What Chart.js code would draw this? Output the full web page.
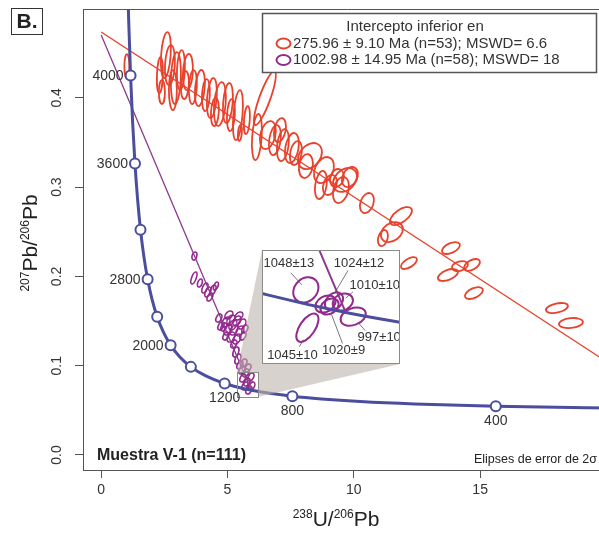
<!DOCTYPE html>
<html>
<head>
<meta charset="utf-8">
<script src="https://cdn.jsdelivr.net/npm/chart.js@4.4.1/dist/chart.umd.min.js"></script>
<style>
  html, body { margin: 0; padding: 0; background: #fff; overflow: hidden; }
  #wrap { position: relative; width: 599px; height: 537px; overflow: hidden; }
  #main { position: absolute; left: 0; top: 0; }
  #inset { position: absolute; left: 262px; top: 250px; }
</style>
</head>
<body>
<div id="wrap">
  <canvas id="main" width="612" height="537"></canvas>
  <canvas id="inset" width="138" height="114"></canvas>
</div>
<script>
// axis ticks
var xTicks = [0, 5, 10, 15];
var yTicks = [0, 0.1, 0.2, 0.3, 0.4];

// concordia curve (Tera-Wasserburg), age in Ma
var concAge = [4400, 4200, 4000, 3800, 3600, 3400, 3200, 3000, 2800, 2600, 2400, 2200, 2000, 1800, 1600, 1400, 1200, 1100, 1000, 900, 800, 700, 600, 500, 400, 300];
var concX = [1.0215, 1.0888, 1.1630, 1.2452, 1.3370, 1.4398, 1.5557, 1.6874, 1.8383, 2.0130, 2.2169, 2.4586, 2.7490, 3.1044, 3.5496, 4.1227, 4.8880, 5.3746, 5.9591, 6.6742, 7.5680, 8.7182, 10.252, 12.399, 15.620, 20.990];
var concY = [0.5571, 0.4863, 0.4250, 0.3721, 0.3264, 0.2868, 0.2524, 0.2227, 0.1968, 0.1744, 0.1548, 0.1378, 0.1230, 0.1100, 0.0987, 0.0888, 0.0801, 0.0762, 0.0725, 0.0691, 0.0658, 0.0628, 0.0599, 0.0572, 0.0547, 0.0523];
var concMarker = [4000, 3600, 3200, 2800, 2400, 2000, 1600, 1200, 800, 400];
var concLabel = [4000, 3600, 2800, 2000, 1200, 800, 400];

// discordia lines
var redLineX = [0, 22.86];
var redLineY = [0.4737, 0.0518];
var purpleLineX = [0, 5.94];
var purpleLineY = [0.4703, 0.0726];

// group 1: 275.96 Ma lower intercept (2s error ellipses)
var redX = [1.017, 2.561, 2.403, 2.720, 2.957, 2.838, 3.155, 3.432, 3.630, 3.907, 4.145, 4.382, 4.699, 5.016, 5.135, 5.412, 5.491, 6.480, 6.164, 6.599, 6.877, 7.193, 7.550, 8.262, 8.104, 8.817, 8.698, 9.648, 9.489, 9.845, 9.331, 10.519, 11.865, 11.508, 11.152, 12.181, 13.844, 14.200, 14.675, 13.725, 14.754, 18.040, 18.594, 2.324, 3.314, 4.501, 5.768, 7.075, 7.708, 9.054];
var redY = [0.4356, 0.4479, 0.4065, 0.4367, 0.4222, 0.4087, 0.4311, 0.4289, 0.4121, 0.4110, 0.4031, 0.3998, 0.3931, 0.3942, 0.3807, 0.3807, 0.3606, 0.3998, 0.3561, 0.3583, 0.3527, 0.3471, 0.3438, 0.3348, 0.3236, 0.3191, 0.3024, 0.3080, 0.2968, 0.3113, 0.3102, 0.2822, 0.2676, 0.2497, 0.2430, 0.2150, 0.2318, 0.2116, 0.2128, 0.2016, 0.1814, 0.1646, 0.1478, 0.4255, 0.4143, 0.3841, 0.3751, 0.3639, 0.3382, 0.3024];
var redErrX = [0.099, 0.198, 0.119, 0.198, 0.198, 0.158, 0.158, 0.198, 0.158, 0.198, 0.158, 0.198, 0.238, 0.198, 0.158, 0.198, 0.079, 0.435, 0.198, 0.317, 0.238, 0.238, 0.277, 0.475, 0.277, 0.396, 0.238, 0.475, 0.317, 0.317, 0.277, 0.277, 0.435, 0.435, 0.198, 0.317, 0.356, 0.317, 0.317, 0.396, 0.356, 0.435, 0.475, 0.119, 0.158, 0.158, 0.119, 0.238, 0.238, 0.277];
var redErrY = [0.0134, 0.0258, 0.0134, 0.0224, 0.0291, 0.0224, 0.0224, 0.0202, 0.0190, 0.0202, 0.0179, 0.0224, 0.0246, 0.0224, 0.0179, 0.0280, 0.0090, 0.0302, 0.0258, 0.0157, 0.0168, 0.0179, 0.0168, 0.0146, 0.0134, 0.0146, 0.0157, 0.0134, 0.0146, 0.0112, 0.0101, 0.0112, 0.0101, 0.0112, 0.0090, 0.0067, 0.0067, 0.0056, 0.0067, 0.0067, 0.0067, 0.0056, 0.0056, 0.0202, 0.0157, 0.0157, 0.0157, 0.0134, 0.0134, 0.0112];
var redRho = [0, 0.3, 0, 0.2, 0.2, 0, 0.2, 0.2, 0.2, 0.3, 0.2, 0.3, 0.3, 0.3, 0.2, 0.4, 0.3, 0.85, 0.3, 0.3, 0.3, 0.3, 0.3, 0.3, 0.2, 0.3, 0.3, 0.3, 0.3, 0.3, 0.2, 0.3, 0.6, 0.3, 0.3, 0.6, 0.5, 0.3, 0.5, 0.5, 0.5, 0.4, 0.2, 0.2, 0.2, 0.2, 0.3, 0.3, 0.3, 0.3];

// group 2: 1002.98 Ma lower intercept
var purpleX = [3.690, 3.670, 4.105, 4.224, 4.422, 4.303, 4.541, 4.659, 4.739, 4.937, 5.135, 5.372, 5.570, 5.016, 5.253, 5.491, 5.689, 5.135, 5.372, 4.857, 5.333, 5.412, 5.491, 5.649, 5.570, 5.808, 5.610, 5.768, 5.927, 5.689, 5.966, 5.847, 5.055, 5.451, 5.214, 5.610, 4.937, 5.253, 3.907, 5.728];
var purpleY = [0.2228, 0.1982, 0.1870, 0.1825, 0.1848, 0.1769, 0.1892, 0.1534, 0.1445, 0.1489, 0.1512, 0.1501, 0.1467, 0.1400, 0.1400, 0.1389, 0.1411, 0.1321, 0.1299, 0.1433, 0.1153, 0.1075, 0.1008, 0.1030, 0.0952, 0.0974, 0.0862, 0.0817, 0.0873, 0.0773, 0.0773, 0.0728, 0.1568, 0.1557, 0.1456, 0.1333, 0.1333, 0.1243, 0.1926, 0.0918];
var purpleErrX = [0.099, 0.119, 0.119, 0.119, 0.119, 0.119, 0.099, 0.119, 0.119, 0.158, 0.158, 0.158, 0.158, 0.158, 0.158, 0.158, 0.119, 0.158, 0.158, 0.119, 0.119, 0.119, 0.119, 0.119, 0.119, 0.119, 0.119, 0.119, 0.119, 0.119, 0.119, 0.119, 0.158, 0.158, 0.158, 0.119, 0.119, 0.119, 0.099, 0.119];
var purpleErrY = [0.0045, 0.0067, 0.0056, 0.0056, 0.0056, 0.0045, 0.0045, 0.0045, 0.0045, 0.0056, 0.0056, 0.0056, 0.0056, 0.0056, 0.0056, 0.0056, 0.0045, 0.0056, 0.0056, 0.0045, 0.0056, 0.0056, 0.0045, 0.0045, 0.0045, 0.0045, 0.0045, 0.0045, 0.0045, 0.0045, 0.0045, 0.0045, 0.0045, 0.0045, 0.0056, 0.0045, 0.0045, 0.0045, 0.0045, 0.0045];
var purpleRho = [0.3, 0.6, 0.5, 0.5, 0.5, 0.5, 0.5, 0.4, 0.4, 0.4, 0.4, 0.4, 0.4, 0.4, 0.4, 0.4, 0.4, 0.4, 0.4, 0.4, 0.4, 0.4, 0.4, 0.4, 0.4, 0.4, 0.4, 0.4, 0.4, 0.4, 0.4, 0.4, 0.4, 0.4, 0.4, 0.4, 0.4, 0.4, 0.4, 0.4];

// enlarged detail: region of the main plot shown in the inset
var zoomBoxX = [5.372, 6.204];
var zoomBoxY = [0.065, 0.0929];
var insetRangeX = [5.343, 6.328];
var insetRangeY = [0.0622, 0.0852];
var insetX = [5.656, 5.667, 5.796, 5.825, 5.857, 5.920, 5.994];
var insetY = [0.07716, 0.06952, 0.07431, 0.07380, 0.07482, 0.07471, 0.07176];
var insetErrX = [0.0899, 0.0791, 0.0719, 0.0647, 0.0647, 0.0719, 0.0899];
var insetErrY = [0.00255, 0.00285, 0.00173, 0.00163, 0.00183, 0.00173, 0.00183];
var insetRho = [0.2, 0.6, 0.3, 0.3, 0.3, 0.2, 0.3];
var insetAge = ['1048±13', '1045±10', '', '1020±9', '1024±12', '1010±10', '997±10'];

var legendTitle = 'Intercepto inferior en';
var legendText = ['275.96 ± 9.10 Ma (n=53); MSWD= 6.6', '1002.98 ± 14.95 Ma (n=58); MSWD= 18'];

var RED = '#e8422c', PURPLE = '#93298f', PURPLE_LINE = '#8d3a8d', BLUE = '#4b4e9d', INK = '#333333';
var FONT = '"Liberation Sans", Arial, Helvetica, sans-serif';

// label placement for the inset ages: text offset, leader start, leader end (px from ellipse centre)
var insetLabelPos = [
  [-17, -26, -15, -17, -4, -5],
  [-15, 28, -8, 19, -4, 12],
  null,
  [14, 44, 13, 37, 2, 8],
  [25, -38, 14, -31, 1, -9],
  [32, -17, 10, -10, 3, -4],
  [26, 21, 12, 14, 5, 6]
];

function points(xs, ys) {
  return xs.map(function (x, i) { return { x: x, y: ys[i] }; });
}

function ellipseSet(xs, ys, ex, ey, rho, color, width) {
  return {
    type: 'scatter',
    data: points(xs, ys),
    errX: ex, errY: ey, rho: rho, ellColor: color, ellWidth: width,
    pointRadius: 0, showLine: false
  };
}

function fixedTicks(list) {
  return function (axis) {
    axis.ticks = list.map(function (v) { return { value: v }; });
  };
}

// draws each analysis as its error ellipse, through the chart scales
var ellipsePlugin = {
  id: 'ellipses',
  beforeDatasetsDraw: function (chart) {
    var xs = chart.scales.x, ys = chart.scales.y, ctx = chart.ctx, a = chart.chartArea;
    var kx = Math.abs(xs.getPixelForValue(1) - xs.getPixelForValue(0));
    var ky = Math.abs(ys.getPixelForValue(1) - ys.getPixelForValue(0));
    ctx.save();
    ctx.beginPath();
    ctx.rect(a.left, a.top, a.right - a.left, a.bottom - a.top);
    ctx.clip();
    chart.data.datasets.forEach(function (ds) {
      if (!ds.errX) return;
      ctx.strokeStyle = ds.ellColor;
      ctx.lineWidth = ds.ellWidth;
      ds.data.forEach(function (p, i) {
        var sa = ds.errX[i] * kx, sb = ds.errY[i] * ky;
        var c = -ds.rho[i] * sa * sb; // canvas y points down
        var m = (sa * sa + sb * sb) / 2;
        var d = Math.sqrt(Math.pow((sa * sa - sb * sb) / 2, 2) + c * c);
        var rot = 0.5 * Math.atan2(2 * c, sa * sa - sb * sb);
        ctx.beginPath();
        ctx.ellipse(xs.getPixelForValue(p.x), ys.getPixelForValue(p.y),
          Math.sqrt(m + d), Math.sqrt(Math.max(m - d, 0.25)), rot, 0, Math.PI * 2);
        ctx.stroke();
      });
    });
    ctx.restore();
  }
};

function supText(ctx, parts, x, y, rotate) {
  var big = '21px ' + FONT, small = '12px ' + FONT, w = 0;
  parts.forEach(function (p) { ctx.font = p[1] ? small : big; w += ctx.measureText(p[0]).width; });
  ctx.save();
  ctx.translate(x, y);
  if (rotate) ctx.rotate(-Math.PI / 2);
  ctx.textAlign = 'left';
  ctx.textBaseline = 'alphabetic';
  var cx = -w / 2;
  parts.forEach(function (p) {
    ctx.font = p[1] ? small : big;
    ctx.fillText(p[0], cx, p[1] ? -8 : 0);
    cx += ctx.measureText(p[0]).width;
  });
  ctx.restore();
}

var mainDecor = {
  id: 'mainDecor',
  afterDatasetsDraw: function (chart) {
    var xs = chart.scales.x, ys = chart.scales.y, ctx = chart.ctx;
    // connector between the small box and the inset
    var bl = xs.getPixelForValue(zoomBoxX[0]), br = xs.getPixelForValue(zoomBoxX[1]);
    var bt = ys.getPixelForValue(zoomBoxY[1]), bb = ys.getPixelForValue(zoomBoxY[0]);
    var inset = document.getElementById('inset');
    var il = inset.offsetLeft, it = inset.offsetTop, ir = il + inset.width, ib = it + inset.height;
    ctx.save();
    ctx.fillStyle = 'rgba(188,180,172,0.6)';
    ctx.beginPath();
    ctx.moveTo(bl, bt);
    ctx.lineTo(il, it);
    ctx.lineTo(ir, ib);
    ctx.lineTo(br, bb);
    ctx.lineTo(br, bt);
    ctx.closePath();
    ctx.fill();
    ctx.strokeStyle = '#8a8a8a';
    ctx.lineWidth = 1;
    ctx.strokeRect(Math.round(bl) + 0.5, Math.round(bt) + 0.5, Math.round(br - bl), Math.round(bb - bt));

    // age labels on the concordia
    ctx.fillStyle = INK;
    ctx.font = '14px ' + FONT;
    concLabel.forEach(function (age) {
      var i = concAge.indexOf(age);
      var px = xs.getPixelForValue(concX[i]), py = ys.getPixelForValue(concY[i]);
      if (age >= 2000) {
        ctx.textAlign = 'right'; ctx.textBaseline = 'middle';
        ctx.fillText(String(age), px - 7, py + 1);
      } else {
        ctx.textAlign = 'center'; ctx.textBaseline = 'middle';
        ctx.fillText(String(age), px, py + 15);
      }
    });
    ctx.restore();
  },
  afterDraw: function (chart) {
    var xs = chart.scales.x, ys = chart.scales.y, ctx = chart.ctx, a = chart.chartArea;
    ctx.save();
    // top of the frame
    ctx.strokeStyle = '#555';
    ctx.lineWidth = 1;
    ctx.beginPath();
    ctx.moveTo(a.left, a.top + 0.5);
    ctx.lineTo(a.right, a.top + 0.5);
    ctx.stroke();

    // tick labels
    ctx.fillStyle = INK;
    ctx.font = '14px ' + FONT;
    ctx.textAlign = 'center';
    ctx.textBaseline = 'middle';
    xTicks.forEach(function (v) { ctx.fillText(String(v), xs.getPixelForValue(v), 490); });
    yTicks.forEach(function (v) {
      ctx.save();
      ctx.translate(57, ys.getPixelForValue(v));
      ctx.rotate(-Math.PI / 2);
      ctx.fillText(v.toFixed(1), 0, 0);
      ctx.restore();
    });

    // axis titles
    ctx.fillStyle = '#222';
    supText(ctx, [['238', 1], ['U/', 0], ['206', 1], ['Pb', 0]], 336, 526, false);
    supText(ctx, [['207', 1], ['Pb/', 0], ['206', 1], ['Pb', 0]], 37, 243, true);

    // panel letter
    ctx.strokeStyle = '#333';
    ctx.strokeRect(11.5, 8.5, 31, 26);
    ctx.font = 'bold 21px ' + FONT;
    ctx.textAlign = 'center';
    ctx.fillText('B.', 27, 22);

    // sample name and note
    ctx.font = 'bold 16px ' + FONT;
    ctx.textAlign = 'left';
    ctx.fillText('Muestra V-1 (n=111)', 97, 456);
    ctx.font = '12.5px ' + FONT;
    ctx.textAlign = 'right';
    ctx.fillText('Elipses de error de 2σ', 597, 460);

    // legend
    ctx.fillStyle = '#fff';
    ctx.fillRect(262.5, 13.5, 334, 59);
    ctx.strokeStyle = '#555';
    ctx.lineWidth = 1.5;
    ctx.strokeRect(262.5, 13.5, 334, 59);
    ctx.fillStyle = INK;
    ctx.font = '15px ' + FONT;
    ctx.textAlign = 'center';
    ctx.fillText(legendTitle, 415, 27);
    ctx.textAlign = 'left';
    [RED, PURPLE].forEach(function (col, i) {
      var ly = 43.5 + i * 16.5;
      ctx.strokeStyle = col;
      ctx.lineWidth = 2;
      ctx.beginPath();
      ctx.ellipse(283.5, ly, 7, 5, 0, 0, Math.PI * 2);
      ctx.stroke();
      ctx.fillText(legendText[i], 293, ly);
    });
    ctx.restore();
  }
};

new Chart(document.getElementById('main'), {
  type: 'line',
  data: {
    datasets: [
      {
        data: points(concX, concY),
        borderColor: BLUE, borderWidth: 3,
        cubicInterpolationMode: 'monotone',
        pointRadius: concAge.map(function (a) { return concMarker.indexOf(a) >= 0 ? 5 : 0; }),
        pointBackgroundColor: '#fff', pointBorderColor: BLUE, pointBorderWidth: 2,
        clip: 0
      },
      { data: points(purpleLineX, purpleLineY), borderColor: PURPLE_LINE, borderWidth: 1.3, pointRadius: 0, clip: 0 },
      { data: points(redLineX, redLineY), borderColor: RED, borderWidth: 1.4, pointRadius: 0, clip: 0 },
      ellipseSet(redX, redY, redErrX, redErrY, redRho, RED, 1.8),
      ellipseSet(purpleX, purpleY, purpleErrX, purpleErrY, purpleRho, PURPLE, 1.6)
    ]
  },
  options: {
    responsive: false,
    animation: false,
    events: [],
    layout: { padding: { left: 75, top: 9, right: 0, bottom: 59 } },
    plugins: { legend: { display: false }, tooltip: { enabled: false } },
    scales: {
      x: {
        type: 'linear', min: -0.72, max: 20.22,
        afterBuildTicks: fixedTicks(xTicks),
        ticks: { display: false },
        grid: { drawOnChartArea: false, tickLength: 8, color: '#555' },
        border: { color: '#555' }
      },
      y: {
        type: 'linear', min: -0.0168, max: 0.4995,
        afterBuildTicks: fixedTicks(yTicks),
        ticks: { display: false },
        grid: { drawOnChartArea: false, tickLength: 8, color: '#555' },
        border: { color: '#555' }
      }
    }
  },
  plugins: [ellipsePlugin, mainDecor]
});

var insetDecor = {
  id: 'insetDecor',
  beforeDraw: function (chart) {
    chart.ctx.fillStyle = '#fff';
    chart.ctx.fillRect(0, 0, chart.width, chart.height);
  },
  afterDraw: function (chart) {
    var xs = chart.scales.x, ys = chart.scales.y, ctx = chart.ctx;
    ctx.save();
    ctx.font = '13px ' + FONT;
    ctx.textAlign = 'center';
    ctx.textBaseline = 'middle';
    insetAge.forEach(function (txt, i) {
      var p = insetLabelPos[i];
      if (!p) return;
      var cx = xs.getPixelForValue(insetX[i]), cy = ys.getPixelForValue(insetY[i]);
      ctx.strokeStyle = '#555';
      ctx.lineWidth = 0.8;
      ctx.beginPath();
      ctx.moveTo(cx + p[2], cy + p[3]);
      ctx.lineTo(cx + p[4], cy + p[5]);
      ctx.stroke();
      ctx.fillStyle = INK;
      ctx.fillText(txt, cx + p[0], cy + p[1]);
    });
    ctx.strokeStyle = '#8a8a8a';
    ctx.lineWidth = 1;
    ctx.strokeRect(0.5, 0.5, chart.width - 1, chart.height - 1);
    ctx.restore();
  }
};

new Chart(document.getElementById('inset'), {
  type: 'line',
  data: {
    datasets: [
      { data: points(concX, concY), borderColor: BLUE, borderWidth: 3, cubicInterpolationMode: 'monotone', pointRadius: 0, clip: 0 },
      { data: points(purpleLineX, purpleLineY), borderColor: PURPLE_LINE, borderWidth: 2, pointRadius: 0, clip: 0 },
      ellipseSet(insetX, insetY, insetErrX, insetErrY, insetRho, PURPLE, 2)
    ]
  },
  options: {
    responsive: false,
    animation: false,
    events: [],
    layout: { padding: 0 },
    plugins: { legend: { display: false }, tooltip: { enabled: false } },
    scales: {
      x: { type: 'linear', display: false, min: insetRangeX[0], max: insetRangeX[1] },
      y: { type: 'linear', display: false, min: insetRangeY[0], max: insetRangeY[1] }
    }
  },
  plugins: [ellipsePlugin, insetDecor]
});
</script>
</body>
</html>
